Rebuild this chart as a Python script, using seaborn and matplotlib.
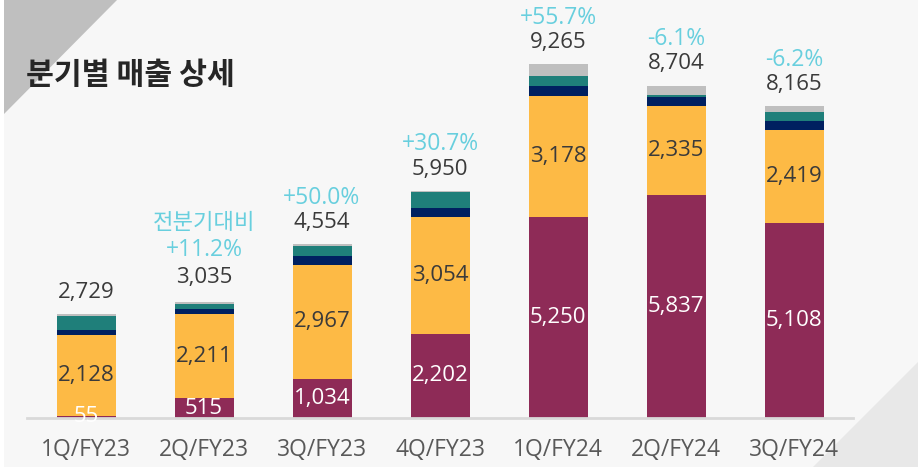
import numpy as np
import pandas as pd
import matplotlib
matplotlib.use("Agg")
import matplotlib.pyplot as plt
from matplotlib.patches import Polygon, Rectangle
import seaborn as sns

# ---- data ----
quarters = ["1Q/FY23", "2Q/FY23", "3Q/FY23", "4Q/FY23", "1Q/FY24", "2Q/FY24", "3Q/FY24"]
seg_maroon = [55, 515, 1034, 2202, 5250, 5837, 5108]
seg_yellow = [2128, 2211, 2967, 3054, 3178, 2335, 2419]
seg_navy = [120, 140, 235, 240, 257, 230, 243]
seg_teal = [360, 110, 260, 410, 280, 66, 230]
totals = [2729, 3035, 4554, 5950, 9265, 8704, 8165]
growth = ["", "+11.2%", "+50.0%", "+30.7%", "+55.7%", "-6.1%", "-6.2%"]
growth_note = ["", "전분기대비", "", "", "", "", ""]
title = "분기별 매출 상세"

sns.set_style("white")
plt.rcParams['font.family'] = ['Open Sans', 'Noto Sans CJK KR', 'DejaVu Sans']

W, H = 923, 469
fig = plt.figure(figsize=(W / 100, H / 100), dpi=100)
fig.patch.set_facecolor("white")

def fx(px):
    return px / W

def fy(py):
    return 1 - py / H

# panel background
fig.patches.append(Rectangle((fx(4), fy(467)), fx(918) - fx(4), fy(0) - fy(467),
                             transform=fig.transFigure, facecolor="#f7f7f7", edgecolor="none", zorder=-3))
fig.patches.append(Polygon([(fx(4), fy(0)), (fx(117), fy(0)), (fx(4), fy(114))], closed=True,
                           transform=fig.transFigure, facecolor="#bfbfbf", edgecolor="none", zorder=-2))
fig.patches.append(Polygon([(fx(918), fy(362)), (fx(918), fy(467)), (fx(813), fy(467))], closed=True,
                           transform=fig.transFigure, facecolor="#e8e8e8", edgecolor="none", zorder=-2))

ax = fig.add_axes([fx(27), 1 - 418 / H, fx(853) - fx(27), 418 / H])
ax.set_facecolor("none")

maroon = np.array(seg_maroon, float)
yellow = np.array(seg_yellow, float)
navy = np.array(seg_navy, float)
teal = np.array(seg_teal, float)
tot = np.array(totals, float)

c1 = maroon
c2 = c1 + yellow
c3 = c2 + navy
c4 = c3 + teal

layers = [(tot, "#bfbfbf"), (c4, "#1f7f7a"), (c3, "#002060"), (c2, "#fdba45"), (c1, "#8e2b57")]
for vals, col in layers:
    df = pd.DataFrame({"q": quarters, "v": vals})
    sns.barplot(data=df, x="q", y="v", color=col, width=0.5, ax=ax, saturation=1,
                edgecolor="none", linewidth=0, errorbar=None)

ax.set_xlim(-0.5, 6.5)
ax.set_ylim(0, 418 / 0.0382)
ax.set_xlabel("")
ax.set_ylabel("")
ax.set_yticks([])
for s in ["left", "right", "top"]:
    ax.spines[s].set_visible(False)
ax.spines["bottom"].set_color("#d9d9d9")
ax.spines["bottom"].set_linewidth(2)
ax.tick_params(axis="x", length=0, pad=14.5, labelsize=16.5, labelcolor="#595959")

dark = "#3a3a3a"
cyan = "#68cfde"
for i in range(len(quarters)):
    ax.text(i, c1[i] / 2, f"{seg_maroon[i]:,}", ha="center", va="center", fontsize=16, color="white")
    ax.text(i, c1[i] + yellow[i] / 2, f"{seg_yellow[i]:,}", ha="center", va="center", fontsize=16, color=dark)
    extra = 2.5 if growth_note[i] else 0
    ax.annotate(f"{totals[i]:,}", (i, tot[i]), xytext=(0, 15.5 + extra), textcoords="offset points",
                ha="center", va="center", fontsize=16, color=dark)
    if growth[i]:
        ax.annotate(growth[i], (i, tot[i]), xytext=(0, 33.5 + extra * 1.6), textcoords="offset points",
                    ha="center", va="center", fontsize=16.5, color=cyan)
    if growth_note[i]:
        ax.annotate(growth_note[i], (i, tot[i]), xytext=(0, 57.5), textcoords="offset points",
                    ha="center", va="center", fontsize=16, color=cyan,
                    family=["Noto Sans CJK KR", "DejaVu Sans"])

fig.text(fx(26), fy(75), title, ha="left", va="center", fontsize=21.8, fontweight="bold",
         color="#262626", family=["Noto Sans CJK KR", "DejaVu Sans"])

fig.savefig("out.png", dpi=100, facecolor=fig.get_facecolor())
